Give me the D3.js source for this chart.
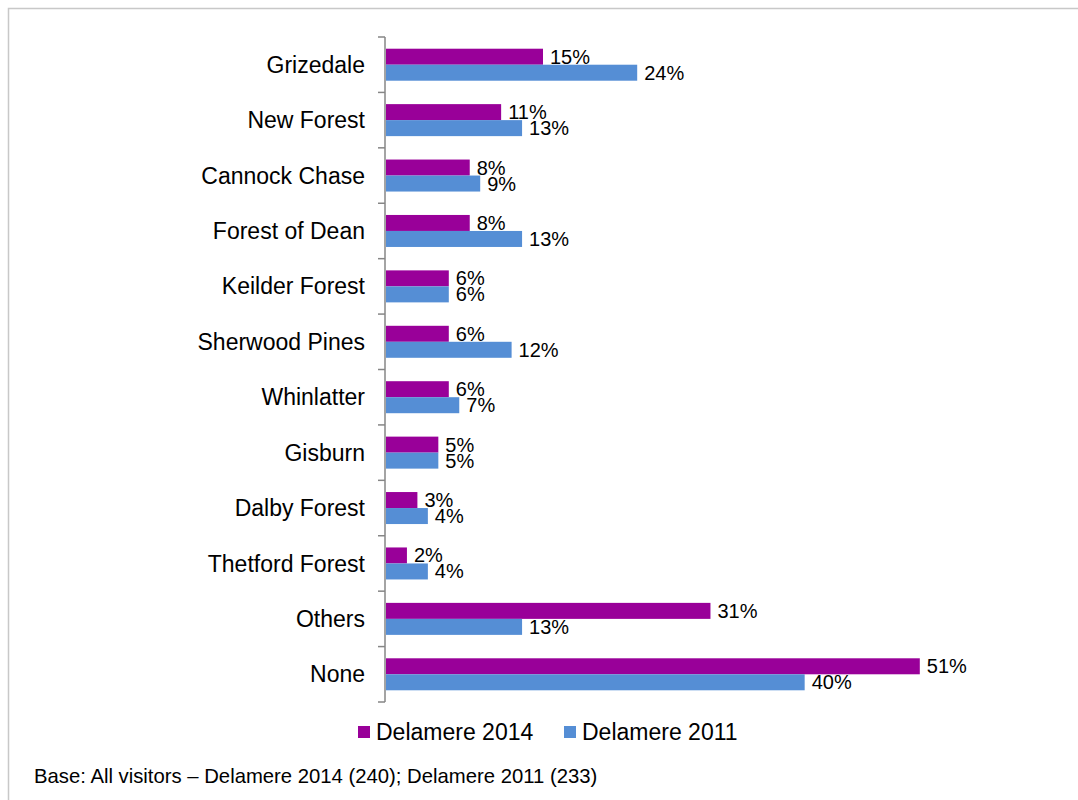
<!DOCTYPE html>
<html>
<head>
<meta charset="utf-8">
<script src="https://cdn.jsdelivr.net/npm/d3@7"></script>
<style>
  html, body { margin: 0; padding: 0; background: #fff; }
  svg { display: block; font-family: "Liberation Sans", Arial, sans-serif; }
</style>
</head>
<body>
<svg id="chart" width="1078" height="800"></svg>
<script>
// Forests visited, Delamere visitor survey
const categories = ["Grizedale", "New Forest", "Cannock Chase", "Forest of Dean", "Keilder Forest",
  "Sherwood Pines", "Whinlatter", "Gisburn", "Dalby Forest", "Thetford Forest", "Others", "None"];
const values2014 = [15, 11, 8, 8, 6, 6, 6, 5, 3, 2, 31, 51];
const values2011 = [24, 13, 9, 13, 6, 12, 7, 5, 4, 4, 13, 40];
const seriesNames = ["Delamere 2014", "Delamere 2011"];
const seriesColors = ["#990099", "#558ED5"];
const footnote = "Base: All visitors \u2013 Delamere 2014 (240); Delamere 2011 (233)";

const svg = d3.select("#chart");

// outer frame
svg.append("rect")
  .attr("x", 8.5).attr("y", 8.5)
  .attr("width", 1100).attr("height", 820)
  .attr("fill", "none").attr("stroke", "#c8c8c8").attr("stroke-width", 1.5);

const plot = { left: 386, top: 37, bottom: 702 };

const y = d3.scaleBand().domain(categories).range([plot.top, plot.bottom]);
const x = d3.scaleLinear().domain([0, 60]).range([plot.left, plot.left + 628]);

const barH = 16;
const series = [values2014, values2011];

series.forEach((vals, si) => {
  const g = svg.append("g");
  g.selectAll("rect")
    .data(categories)
    .join("rect")
    .attr("x", x(0))
    .attr("y", (d) => y(d) + y.bandwidth() / 2 - barH + si * barH)
    .attr("width", (d, i) => x(vals[i]) - x(0))
    .attr("height", barH)
    .attr("fill", seriesColors[si]);

  g.selectAll("text")
    .data(categories)
    .join("text")
    .attr("x", (d, i) => x(vals[i]) + 7)
    .attr("y", (d) => y(d) + y.bandwidth() / 2 - barH / 2 + si * barH + 7)
    .attr("font-size", 20)
    .attr("fill", "#000")
    .text((d, i) => vals[i] + "%");
});

// category axis
const axis = d3.axisLeft(y).tickSize(0).tickPadding(20);
const axisG = svg.append("g").attr("transform", `translate(${plot.left - 1},0)`).call(axis);
axisG.select(".domain").remove();
axisG.selectAll("text")
  .attr("font-size", 23)
  .attr("fill", "#000")
  .attr("font-family", "Liberation Sans, Arial, sans-serif")
  .attr("dy", "0.35em");

// axis line and boundary ticks
const bounds = categories.map((c) => y(c)).concat([plot.bottom]);
svg.append("line")
  .attr("x1", plot.left - 1).attr("x2", plot.left - 1)
  .attr("y1", plot.top).attr("y2", plot.bottom)
  .attr("stroke", "#868686").attr("stroke-width", 1.5);
svg.append("g").selectAll("line")
  .data(bounds)
  .join("line")
  .attr("x1", plot.left - 8).attr("x2", plot.left - 1)
  .attr("y1", (d) => d).attr("y2", (d) => d)
  .attr("stroke", "#868686").attr("stroke-width", 1.5);

// legend
const legendX = [358, 564];
const legend = svg.append("g");
seriesNames.forEach((name, i) => {
  legend.append("rect")
    .attr("x", legendX[i]).attr("y", 726)
    .attr("width", 12).attr("height", 12)
    .attr("fill", seriesColors[i]);
  legend.append("text")
    .attr("x", legendX[i] + 18).attr("y", 740)
    .attr("font-size", 23)
    .attr("fill", "#000")
    .text(name);
});

// footnote
svg.append("text")
  .attr("x", 34).attr("y", 783)
  .attr("font-size", 20.3)
  .attr("fill", "#000")
  .text(footnote);
</script>
</body>
</html>
